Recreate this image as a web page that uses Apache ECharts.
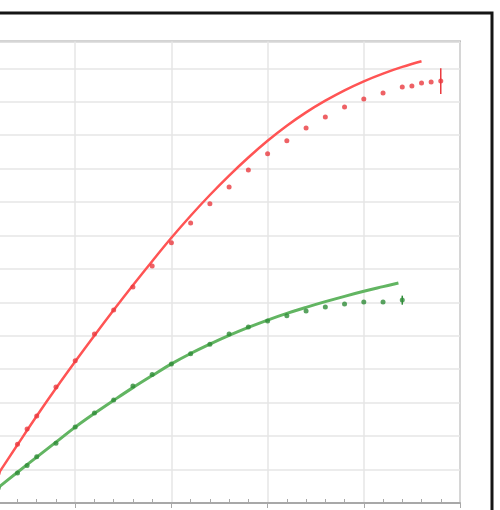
<!DOCTYPE html>
<html>
<head>
<meta charset="utf-8">
<script src="https://cdn.jsdelivr.net/npm/echarts@6/dist/echarts.min.js"></script>
<style>
	html, body { margin: 0; padding: 0; background: #fff; overflow: hidden; }
	/* 图的左边在窗口外面, 所以容器往左挪 */
	#chart { width: 521px; height: 510px; margin-left: -21px; }
</style>
</head>
<body>
<div id="chart"></div>
<script>
// 曲线 (模型)
var redLineX = [0, 1, 2, 3, 4, 5, 6, 7, 8, 9, 10, 11, 12, 13, 14, 15, 16, 17, 18, 19, 20, 21, 22, 23];
var redLineY = [0, 0.87, 1.74, 2.60, 3.43, 4.23, 5.01, 5.77, 6.51, 7.23, 7.93, 8.59, 9.21, 9.79, 10.33, 10.83, 11.28, 11.68, 12.03, 12.34, 12.61, 12.84, 13.04, 13.21];
var greenLineX = [0, 1, 2, 3, 4, 5, 6, 7, 8, 9, 10, 11, 12, 13, 14, 15, 16, 17, 18, 19, 20, 21, 21.8];
var greenLineY = [0, 0.46, 0.92, 1.37, 1.82, 2.27, 2.68, 3.07, 3.45, 3.81, 4.16, 4.47, 4.75, 5.01, 5.25, 5.47, 5.67, 5.85, 6.02, 6.18, 6.33, 6.47, 6.58];

// 测量点
var redDotX = [1, 2, 2.5, 3, 4, 5, 6, 7, 8, 9, 10, 11, 12, 13, 14, 15, 16, 17, 18, 19, 20, 21, 22, 22.5, 23, 23.5, 24];
var redDotY = [0.90, 1.76, 2.21, 2.60, 3.47, 4.25, 5.05, 5.77, 6.46, 7.09, 7.78, 8.37, 8.95, 9.45, 9.96, 10.44, 10.83, 11.21, 11.54, 11.84, 12.08, 12.26, 12.44, 12.47, 12.56, 12.59, 12.62];
var greenDotX = [1, 2, 2.5, 3, 4, 5, 6, 7, 8, 9, 10, 11, 12, 13, 14, 15, 16, 17, 18, 19, 20, 21, 22];
var greenDotY = [0.45, 0.90, 1.12, 1.38, 1.79, 2.27, 2.69, 3.08, 3.50, 3.84, 4.16, 4.46, 4.75, 5.05, 5.26, 5.44, 5.60, 5.74, 5.86, 5.95, 6.01, 6.01, 6.07];

// 误差棒 [x, 下限, 上限]
var redErr = [24, 12.23, 13.00];
var greenErr = [22, 5.93, 6.20];

function pairs(xs, ys) {
	var out = [];
	for (var i = 0; i < xs.length; i++) {
		out.push([xs[i], ys[i]]);
	}
	return out;
}

function errBar(color) {
	return function(params, api) {
		var x = api.value(0);
		var lo = api.coord([x, api.value(1)]);
		var hi = api.coord([x, api.value(2)]);
		return {
			type: 'line',
			shape: { x1: lo[0], y1: lo[1], x2: hi[0], y2: hi[1] },
			style: { stroke: color, lineWidth: 1.5 }
		};
	};
}

var chart = echarts.init(document.getElementById('chart'));

var option = {
	animation: false,
	backgroundColor: '#fff',
	graphic: [{
		type: 'rect',
		shape: { x: 0, y: 13, width: 513, height: 600 },
		style: { fill: 'none', stroke: '#151515', lineWidth: 3 },
		z: 100
	}],
	grid: {
		show: true,
		left: 0,
		right: 40,
		top: 41.5,
		bottom: 7,
		borderColor: '#a8a8a8',
		borderWidth: 2,
		containLabel: false
	},
	xAxis: {
		type: 'value',
		min: 0,
		max: 25,
		interval: 5,
		axisLabel: { show: false },
		axisLine: { show: true, lineStyle: { color: '#a8a8a8', width: 2 } },
		axisTick: { show: true, length: 5, lineStyle: { color: '#a8a8a8', width: 1 } },
		minorTick: { show: true, splitNumber: 5, length: -4, lineStyle: { color: '#a8a8a8', width: 1 } },
		splitLine: { show: true, lineStyle: { color: '#e6e6e6', width: 1.5 } }
	},
	yAxis: {
		type: 'value',
		min: 0,
		max: 13.8,
		interval: 1,
		axisLabel: { show: false },
		axisLine: { show: false },
		axisTick: { show: false },
		splitLine: { show: true, lineStyle: { color: '#e6e6e6', width: 1.5 } }
	},
	series: [{
		name: 'red-model',
		type: 'line',
		data: pairs(redLineX, redLineY),
		smooth: 0.4,
		showSymbol: false,
		lineStyle: { color: '#ff5454', width: 2.5 },
		z: 3
	}, {
		name: 'green-model',
		type: 'line',
		data: pairs(greenLineX, greenLineY),
		smooth: 0.4,
		showSymbol: false,
		lineStyle: { color: '#62b562', width: 3 },
		z: 3
	}, {
		name: 'red-data',
		type: 'scatter',
		data: pairs(redDotX, redDotY),
		symbolSize: 5,
		itemStyle: { color: '#ea3a3f' },
		z: 4
	}, {
		name: 'green-data',
		type: 'scatter',
		data: pairs(greenDotX, greenDotY),
		symbolSize: 5,
		itemStyle: { color: '#2f8c38' },
		z: 4
	}, {
		name: 'red-err',
		type: 'custom',
		data: [redErr],
		renderItem: errBar('#ea3a3f'),
		z: 4
	}, {
		name: 'green-err',
		type: 'custom',
		data: [greenErr],
		renderItem: errBar('#2f8c38'),
		z: 4
	}]
};

chart.setOption(option);
</script>
</body>
</html>
